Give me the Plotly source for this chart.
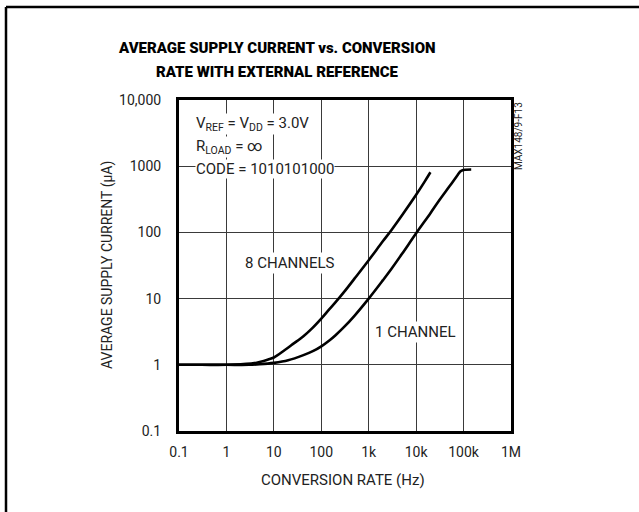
import plotly.graph_objects as go

# ---- data ----
rate_8ch = [0.1, 0.3, 1, 2, 3.6, 5, 7.6, 10, 17, 25, 42, 60, 100, 150, 213, 300, 500,
            1000, 2000, 3000, 5000, 10000, 15000, 20000]
curr_8ch = [1.0, 1.0, 1.0, 1.02, 1.05, 1.1, 1.2, 1.29, 1.67, 2.05, 2.7, 3.4, 5.0, 7.0, 9.3,
            12.5, 20, 38, 74, 108, 180, 370, 580, 810]

rate_1ch = [0.1, 0.3, 1, 3, 5, 10, 20, 42, 68, 100, 150, 200, 300, 500, 1000, 2000, 3000,
            5000, 10000, 20000, 30000, 50000, 75000, 85000, 95000, 110000, 145000]
curr_1ch = [1.0, 1.0, 1.0, 1.0, 1.02, 1.07, 1.17, 1.4, 1.62, 1.9, 2.35, 2.8, 3.7, 5.5, 10,
            19, 28, 47, 97, 195, 298, 492, 736, 830, 870, 885, 890]

x_tickvals = [0.1, 1, 10, 100, 1e3, 1e4, 1e5, 1e6]
x_ticktext = ["0.1", "1", "10", "100", "1k", "10k", "100k", "1M"]
y_tickvals = [0.1, 1, 10, 100, 1000, 10000]
y_ticktext = ["0.1", "1", "10", "100", "1000", "10,000"]

FONT = "Roboto, sans-serif"
TFONT = "Roboto, sans-serif"

W, H = 639, 512
L, R, T, B = 179, 511, 100, 431
pw, ph = R - L, B - T

def px(xp):
    return (xp - L) / pw

def py(yp):
    return (B - yp) / ph

fig = go.Figure()
for xs, ys in [(rate_8ch, curr_8ch), (rate_1ch, curr_1ch)]:
    fig.add_trace(go.Scatter(x=xs, y=ys, mode="lines",
                             line=dict(color="black", width=2.6, shape="spline", smoothing=1.0),
                             showlegend=False, hoverinfo="skip"))

axis_common = dict(showgrid=True, gridcolor="#3a3a3a", gridwidth=1,
                   showline=True, linecolor="black", linewidth=3, mirror=True,
                   ticks="", zeroline=False,
                   tickfont=dict(family=FONT, size=14, color="#222"))

fig.update_xaxes(type="log", range=[-1, 6], tickvals=x_tickvals, ticktext=x_ticktext,
                 ticklabelstandoff=6, **axis_common)
fig.update_yaxes(type="log", range=[-1, 4], tickvals=y_tickvals, ticktext=y_ticktext,
                 ticklabelstandoff=12, **axis_common)

ann = []
for txt, yy in [("AVERAGE SUPPLY CURRENT vs. CONVERSION", 48),
                ("RATE WITH EXTERNAL REFERENCE", 72)]:
    ann.append(dict(text=txt, x=px(277), y=py(yy), xref="paper", yref="paper",
                    xanchor="center", yanchor="middle", showarrow=False,
                    font=dict(family=TFONT, size=15, color="black", weight=900)))
ann.append(dict(text="CONVERSION RATE (Hz)", x=px(343), y=py(480), xref="paper", yref="paper",
                xanchor="center", yanchor="middle", showarrow=False,
                font=dict(family=FONT, size=15, color="#222")))
ann.append(dict(text="AVERAGE SUPPLY CURRENT (\u00b5A)", x=px(107), y=py(265), xref="paper", yref="paper",
                xanchor="center", yanchor="middle", textangle=-90, showarrow=False,
                font=dict(family=FONT, size=14, color="#222")))
ann.append(dict(text="MAX148/9-F13", x=px(518), y=py(100), xref="paper", yref="paper",
                xanchor="center", yanchor="top", textangle=-90, showarrow=False,
                font=dict(family=FONT, size=10, color="#222")))
for txt, yy in [("V<sub>REF</sub> = V<sub>DD</sub> = 3.0V", 124),
                ("R<sub>LOAD</sub> = \u221e", 147),
                ("CODE = 1010101000", 169)]:
    ann.append(dict(text=txt, x=px(195), y=py(yy), xref="paper", yref="paper",
                    xanchor="left", yanchor="middle", showarrow=False, bgcolor="white",
                    borderpad=0, font=dict(family=FONT, size=15, color="#222")))
ann.append(dict(text="8 CHANNELS", x=px(290), y=py(263), xref="paper", yref="paper",
                xanchor="center", yanchor="middle", showarrow=False, bgcolor="white",
                font=dict(family=FONT, size=15, color="#222")))
ann.append(dict(text="1 CHANNEL", x=px(415), y=py(332), xref="paper", yref="paper",
                xanchor="center", yanchor="middle", showarrow=False, bgcolor="white",
                font=dict(family=FONT, size=15, color="#222")))

shapes = [
    dict(type="line", xref="paper", yref="paper", x0=px(6), x1=px(700), y0=py(7), y1=py(7),
         line=dict(color="black", width=2.5)),
    dict(type="line", xref="paper", yref="paper", x0=px(6), x1=px(6), y0=py(7), y1=py(600),
         line=dict(color="black", width=2.5)),
]

fig.update_layout(width=W, height=H, margin=dict(l=L, r=W - R, t=T, b=H - B),
                  paper_bgcolor="white", plot_bgcolor="white",
                  annotations=ann, shapes=shapes,
                  font=dict(family=FONT))

fig.write_html("out.html", config={"displayModeBar": False},
               post_script="document.body.style.margin='0';document.body.style.padding='0';")
